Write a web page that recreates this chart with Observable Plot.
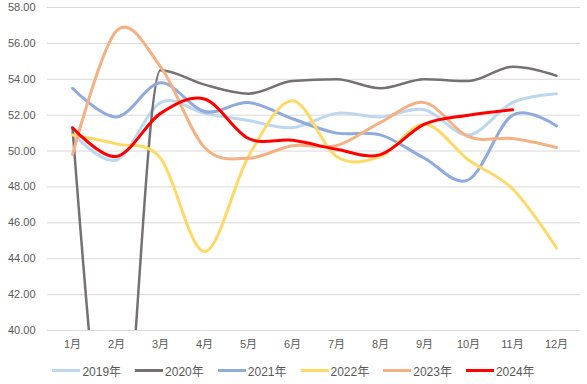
<!DOCTYPE html>
<html>
<head>
<meta charset="utf-8">
<script src="https://cdn.jsdelivr.net/npm/d3@7"></script>
<script src="https://cdn.jsdelivr.net/npm/@observablehq/plot@0.6"></script>
<style>
  html, body { margin: 0; padding: 0; background: #fff; }
  #chart { width: 587px; height: 384px; position: relative; font-family: "Liberation Sans", "Noto Sans CJK SC", sans-serif; }
  .legend { position: absolute; left: 0; top: 362px; width: 587px; display: flex; justify-content: center; gap: 14px; font-size: 12px; color: #595959; }
  .legend .item { display: flex; align-items: center; }
  .legend .sw { width: 28px; height: 3px; margin-right: 2px; }
</style>
</head>
<body>
<div id="chart"></div>
<script>
const months = ["1月","2月","3月","4月","5月","6月","7月","8月","9月","10月","11月","12月"];
const seriesNames = ["2019年","2020年","2021年","2022年","2023年","2024年"];
const seriesColors = ["#BDD7EE","#767171","#8FAADC","#FFD966","#F4B183","#FF0000"];
const seriesWidths = [3, 2.5, 3, 3, 3, 3];
const y2019 = [51.0, 49.5, 52.7, 52.1, 51.7, 51.3, 52.1, 51.9, 52.3, 50.9, 52.7, 53.2];
const y2020 = [51.3, 30.0, 54.5, 53.7, 53.2, 53.9, 54.0, 53.5, 54.0, 53.9, 54.7, 54.2];
const y2021 = [53.5, 51.9, 53.8, 52.2, 52.7, 51.8, 51.0, 50.9, 49.6, 48.4, 52.0, 51.4];
const y2022 = [50.9, 50.4, 49.6, 44.4, 49.7, 52.8, 49.7, 49.7, 51.5, 49.5, 47.9, 44.6];
const y2023 = [49.8, 56.7, 54.7, 50.2, 49.6, 50.3, 50.3, 51.6, 52.7, 50.8, 50.7, 50.2];
const y2024 = [51.3, 49.7, 52.1, 52.9, 50.7, 50.6, 50.1, 49.8, 51.5, 52.0, 52.3];
const yTicks = [40, 42, 44, 46, 48, 50, 52, 54, 56, 58];

const allSeries = [y2019, y2020, y2021, y2022, y2023, y2024];
const rows = [];
allSeries.forEach((vals, i) => vals.forEach((v, j) => rows.push({series: seriesNames[i], month: months[j], value: v})));

const lineMarks = seriesNames.map((name, i) =>
  Plot.line(rows.filter(d => d.series === name), {
    x: "month", y: "value",
    stroke: seriesColors[i], strokeWidth: seriesWidths[i],
    curve: name === "2020年" ? "monotone-x" : "cardinal", tension: 0, clip: true
  })
);

const plot = Plot.plot({
  width: 587,
  height: 358,
  marginLeft: 47,
  marginRight: 7,
  marginTop: 7,
  marginBottom: 28,
  style: { fontFamily: "'Liberation Sans', 'Noto Sans CJK SC', sans-serif", fontSize: "11px", color: "#595959", background: "#fff" },
  x: { type: "point", domain: months, padding: 0.5, label: null, tickSize: 0, tickPadding: 10 },
  y: { domain: [40, 58], ticks: yTicks, tickFormat: d => d.toFixed(2), label: null, tickSize: 0, tickPadding: 12 },
  marks: [
    Plot.ruleY(yTicks, { stroke: "#d9d9d9", strokeWidth: 1 }),
    ...lineMarks
  ]
});
document.getElementById("chart").appendChild(plot);

const legend = document.createElement("div");
legend.className = "legend";
seriesNames.forEach((name, i) => {
  const it = document.createElement("div");
  it.className = "item";
  const sw = document.createElement("span");
  sw.className = "sw";
  sw.style.background = seriesColors[i];
  const tx = document.createElement("span");
  tx.textContent = name;
  it.appendChild(sw); it.appendChild(tx);
  legend.appendChild(it);
});
document.getElementById("chart").appendChild(legend);
</script>
</body>
</html>
